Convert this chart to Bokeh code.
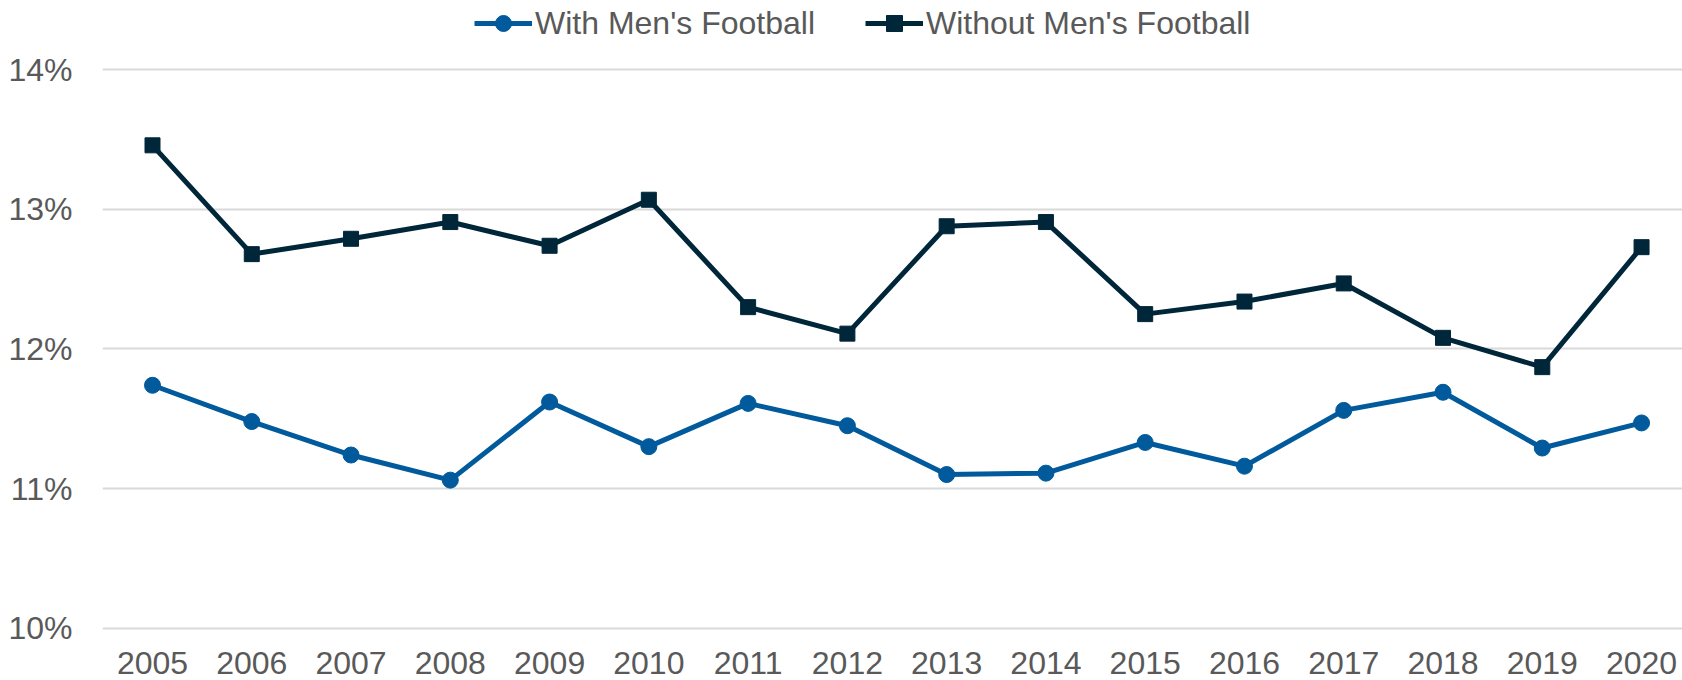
from bokeh.plotting import figure
from bokeh.models import FixedTicker, Legend, LegendItem, Range1d
from bokeh.embed import file_html
from bokeh.resources import INLINE

# ---- data ----
years = [2005, 2006, 2007, 2008, 2009, 2010, 2011, 2012,
         2013, 2014, 2015, 2016, 2017, 2018, 2019, 2020]
with_football = [11.74, 11.48, 11.24, 11.06, 11.62, 11.30, 11.61, 11.45,
                 11.10, 11.11, 11.33, 11.16, 11.56, 11.69, 11.29, 11.47]
without_football = [13.46, 12.68, 12.79, 12.91, 12.74, 13.07, 12.30, 12.11,
                    12.88, 12.91, 12.25, 12.34, 12.47, 12.08, 11.87, 12.73]
y_ticks = [10, 11, 12, 13, 14]
y_tick_labels = ["10%", "11%", "12%", "13%", "14%"]
x_tick_labels = ["2005", "2006", "2007", "2008", "2009", "2010", "2011", "2012",
                 "2013", "2014", "2015", "2016", "2017", "2018", "2019", "2020"]
series_names = ["With Men's Football", "Without Men's Football"]

FONT = "Liberation Sans"
TEXT = "#595959"
BLUE = "#005A9C"
NAVY = "#00263A"

p = figure(width=1682, height=680, output_backend="svg", toolbar_location=None,
           x_range=Range1d(2004.4963, 2020.4125),
           y_range=Range1d(9.62366, 14.4982),
           min_border_left=102, min_border_right=0, min_border_top=0,
           min_border_bottom=0)
p.outline_line_color = None
p.background_fill_color = "white"
p.border_fill_color = "white"

l1 = p.line(years, with_football, line_color=BLUE, line_width=5)
s1 = p.scatter(years, with_football, marker="circle", size=16,
               fill_color=BLUE, line_color=BLUE)
l2 = p.line(years, without_football, line_color=NAVY, line_width=5)
s2 = p.scatter(years, without_football, marker="square", size=15,
               fill_color=NAVY, line_color=NAVY)

# axes
p.xaxis.ticker = FixedTicker(ticks=years)
p.xaxis.major_label_overrides = {y: l for y, l in zip(years, x_tick_labels)}
p.xaxis.fixed_location = 10
p.yaxis.ticker = FixedTicker(ticks=y_ticks)
p.yaxis.major_label_overrides = {t: l for t, l in zip(y_ticks, y_tick_labels)}
for ax in (p.xaxis[0], p.yaxis[0]):
    ax.axis_line_color = None
    ax.major_tick_line_color = None
    ax.minor_tick_line_color = None
    ax.major_tick_out = 0
    ax.major_tick_in = 0
    ax.minor_tick_out = 0
    ax.major_label_text_font = FONT
    ax.major_label_text_font_size = "32px"
    ax.major_label_text_color = TEXT
p.yaxis.major_label_standoff = 30
p.xaxis.major_label_standoff = 24

p.xgrid.grid_line_color = None
p.ygrid.grid_line_color = "#D9D9D9"
p.ygrid.grid_line_width = 2

legend = Legend(
    items=[LegendItem(label=series_names[0], renderers=[l1, s1]),
           LegendItem(label=series_names[1], renderers=[l2, s2])],
    orientation="horizontal", location=(372, 637), padding=0, margin=0,
    spacing=50, glyph_width=58, glyph_height=40, label_standoff=3,
    label_text_font=FONT, label_text_font_size="32px",
    label_text_color=TEXT, border_line_color=None, background_fill_alpha=0)
p.add_layout(legend)

open("out.html", "w").write(file_html(p, INLINE))
